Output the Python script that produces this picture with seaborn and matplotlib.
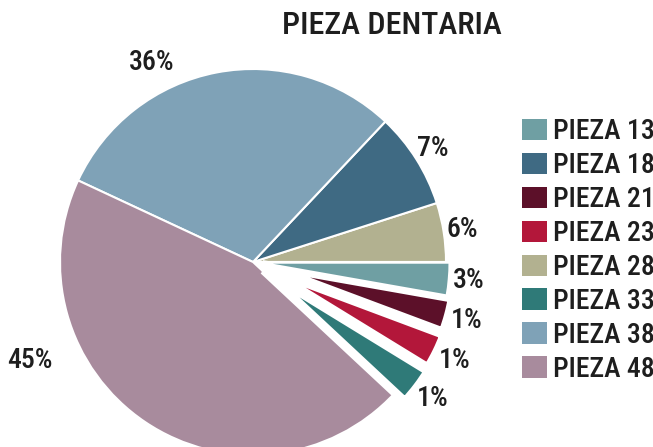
import matplotlib
matplotlib.use("Agg")
import matplotlib.pyplot as plt
import seaborn as sns
from matplotlib.patches import Patch
from matplotlib import font_manager as fm

sns.set_theme(style="white")

# pick the narrowest installed sans family
_fonts = [(f.name, f.stretch) for f in fm.fontManager.ttflist]
_names = {n for n, _ in _fonts}
font_stretch = "normal"
if "Liberation Sans Narrow" in _names:
    font_main = "Liberation Sans Narrow"
elif "Roboto Condensed" in _names:
    font_main = "Roboto Condensed"
elif any(n == "Roboto" and s in ("condensed", 75) for n, s in _fonts):
    font_main, font_stretch = "Roboto", "condensed"
elif any(n == "DejaVu Sans" and s in ("condensed", 75) for n, s in _fonts):
    font_main, font_stretch = "DejaVu Sans", "condensed"
elif "DejaVu Sans Condensed" in _names:
    font_main = "DejaVu Sans Condensed"
else:
    font_main = "Liberation Sans"
plt.rcParams['font.family'] = [font_main, 'DejaVu Sans']
plt.rcParams['font.stretch'] = font_stretch

# ---- data ----
title = "PIEZA DENTARIA"
legend_pieces = ["PIEZA 13", "PIEZA 18", "PIEZA 21", "PIEZA 23",
                 "PIEZA 28", "PIEZA 33", "PIEZA 38", "PIEZA 48"]
legend_colors = ["#6f9fa3", "#3f6a83", "#5c1029", "#b3173a",
                 "#b2b190", "#2f7a78", "#7fa2b7", "#a88b9d"]
# slices in drawing order (counter-clockwise from 3 o'clock)
pie_pieces = ["PIEZA 28", "PIEZA 18", "PIEZA 38", "PIEZA 48",
              "PIEZA 33", "PIEZA 23", "PIEZA 21", "PIEZA 13"]
pie_shares = [17.8, 28.9, 108.3, 162.0, 11.5, 11.0, 10.5, 10.0]  # shares as drawn
pie_labels = ["6%", "7%", "36%", "45%", "1%", "1%", "1%", "3%"]

# ---- style ----
pie_explode = [0, 0, 0, 0, 0.07, 0.06, 0.05, 0.02]
edge_widths = [1.5, 1.5, 1.5, 1.5, 6.5, 6.5, 6.5, 2.0]
color_of = dict(zip(legend_pieces, legend_colors))
pie_colors = [color_of[p] for p in pie_pieces]

W, H = 653, 447
cx, cy, R = 253, 262, 193
TXT = "#1e1e1e"
WEIGHT = "medium"

fig = plt.figure(figsize=(W / 100, H / 100), dpi=100)
fig.patch.set_facecolor("white")
ax = fig.add_axes([0, 0, 1, 1])

wedges, texts = ax.pie(
    pie_shares, colors=pie_colors, startangle=0, counterclock=True,
    explode=pie_explode, labels=pie_labels, labeldistance=1.1, radius=1,
    wedgeprops=dict(edgecolor="white", linewidth=1.5),
    textprops=dict(fontsize=20, color=TXT, fontweight=WEIGHT),
)
for w, lw in zip(wedges, edge_widths):
    w.set_linewidth(lw)
for t in texts:
    t.set_horizontalalignment("center")
    t.set_verticalalignment("center")

# label positions that sit away from the slice bisector
label_override = {"36%": ((152 - cx) / R, (cy - 62) / R),
                  "45%": ((30 - cx) / R, (cy - 360) / R)}
for t in texts:
    if t.get_text() in label_override:
        t.set_position(label_override[t.get_text()])

ax.set_aspect("auto")
ax.set_xlim(-cx / R, (W - cx) / R)
ax.set_ylim(-(H - cy) / R, cy / R)
ax.axis("off")

fig.text(392 / W, 1 - 26 / H, title, ha="center", va="center",
         fontsize=23, color=TXT, fontweight=WEIGHT)

handles = [Patch(facecolor=c, edgecolor="none", label=l)
           for l, c in zip(legend_pieces, legend_colors)]
leg = ax.legend(handles=handles, loc="upper left",
                bbox_to_anchor=(522 / W, 1 - 118 / H), bbox_transform=fig.transFigure,
                frameon=False, prop=dict(size=20, weight=WEIGHT),
                handlelength=0.9, handleheight=0.8,
                handletextpad=0.2, labelspacing=0.25, borderpad=0, borderaxespad=0,
                labelcolor=TXT)

fig.savefig("out.png", dpi=100, facecolor="white")
